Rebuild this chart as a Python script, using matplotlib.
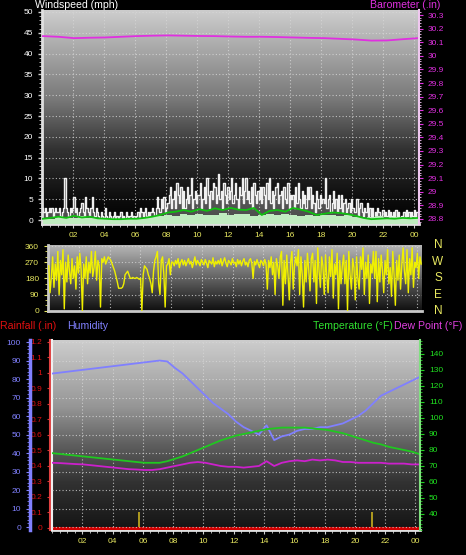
import numpy as np
import matplotlib.pyplot as plt
from matplotlib.ticker import MultipleLocator, FixedLocator

plt.rcParams['font.family'] = ['Liberation Sans', 'DejaVu Sans']

# ---- data (x = hours of the day) ----
barometer = [30.145, 30.14, 30.13, 30.133, 30.135, 30.14, 30.145, 30.148, 30.15, 30.148,
             30.146, 30.145, 30.142, 30.14, 30.14, 30.138, 30.135, 30.132, 30.13, 30.125,
             30.12, 30.112, 30.113, 30.122, 30.13]

# gust, 12 samples per hour (one row per hour)
gust = [3, 2, 3, 1, 2, 3, 2, 3, 1, 2, 3, 2,
        2, 3, 1, 2, 3, 10, 3, 2, 1, 3, 2, 3,
        5.5, 2, 3, 1, 2, 3, 4, 2, 1, 5.5, 3, 2,
        1, 3, 5.5, 2, 1, 3, 2, 1, 0.5, 2, 1, 0.5,
        3, 1, 0.5, 2, 1, 0.5, 1, 2, 0.5, 1, 0.5, 1,
        2, 0.5, 1, 0.5, 2, 1, 0.5, 1, 2, 0.5, 1, 0.5,
        1, 2, 0.5, 3, 2, 1, 2, 3, 1, 2, 0.5, 2,
        3, 2, 1, 3, 5.5, 3, 2, 5, 3, 5.5, 2, 3,
        4, 6, 8, 3, 5, 7, 3, 9, 6, 4, 8, 3,
        7, 3, 5, 8, 4, 6, 10, 3, 5, 7, 4, 6,
        6, 9, 3, 5, 8, 4, 10, 6, 3, 7, 5, 9,
        8, 4, 6, 11, 5, 7, 3, 9, 6, 4, 8, 5,
        7, 10, 4, 6, 9, 5, 3, 8, 6, 10, 4, 7,
        10, 5, 7, 4, 8, 3, 9, 6, 4, 7, 5, 8,
        4, 8, 6, 3, 9, 5, 10, 4, 7, 3, 6, 8,
        9, 4, 6, 7, 3, 8, 5, 4, 9, 3, 6, 5,
        6, 3, 8, 4, 9, 5, 3, 7, 4, 6, 3, 8,
        5, 8, 3, 6, 4, 2, 7, 5, 3, 6, 4, 5,
        4, 10, 3, 5, 6, 2, 4, 7, 3, 5, 2, 6,
        3, 6, 2, 4, 5, 2, 3, 4, 2, 5, 3, 2,
        2, 5, 1, 3, 4, 2, 1, 3, 2, 4, 1, 3,
        1, 3, 0.5, 2, 1, 3, 2, 1, 0.5, 2.5, 1, 2,
        1, 2.5, 0.5, 2, 1, 2, 0.5, 2.5, 1, 2, 0.5, 1,
        1, 2, 0.5, 2.5, 1, 2, 0.5, 2, 1, 2.5, 0.5, 2,
        2]

# average wind and wind speed, 2 samples per hour
avg_wind = [0.3, 0.5, 0.8, 0.5, 1.0, 0.6, 0.8, 0.4, 0.3, 0.2, 0.2, 0.3, 0.3, 0.5, 0.8, 1.2,
            1.8, 2.0, 2.4, 2.0, 2.6, 2.2, 2.8, 2.4, 2.9, 2.5, 2.4, 2.9, 1.2, 2.2, 2.4, 2.0,
            2.9, 2.5, 2.0, 1.2, 1.5, 1.8, 1.7, 1.4, 1.0, 0.5, 0.2, 0.3, 0.4, 0.3, 0.5, 0.4, 0.5]
wind_speed = [0.5, 0.3, 0.8, 0.5, 0.6, 1.0, 0.4, 0.6, 0.2, 0.3, 0.3, 0.2, 0.4, 0.6, 0.8, 1.0,
              1.2, 0.9, 1.4, 1.1, 1.5, 1.2, 1.3, 1.6, 1.2, 1.5, 1.4, 1.0, 1.3, 1.5, 1.1, 1.4,
              1.3, 1.0, 1.2, 0.9, 1.1, 1.3, 0.9, 1.1, 0.8, 0.6, 0.7, 0.9, 0.6, 0.8, 0.7, 0.5, 0.6]

# wind direction, 12 samples per hour (one row per hour)
wind_dir = [250, 100, 190, 300, 130, 260, 170, 330, 90, 280, 200, 340,
            10, 270, 160, 310, 220, 150, 290, 180, 250, 120, 300, 210,
            320, 230, 0, 260, 180, 300, 150, 270, 210, 330, 190, 240,
            330, 170, 280, 250, 20, 290, 270, 300, 260, 280, 300, 290,
            280, 260, 240, 220, 190, 160, 125, 125, 125, 130, 150, 200,
            210, 220, 200, 180, 180, 185, 180, 180, 185, 180, 175, 180,
            0, 200, 250, 240, 230, 200, 180, 150, 100, 220, 280, 300,
            330, 150, 90, 280, 300, 200, 20, 250, 260, 290, 200, 270,
            270, 250, 280, 260, 290, 240, 270, 285, 255, 280, 250, 270,
            290, 260, 275, 240, 270, 300, 255, 280, 265, 250, 285, 270,
            255, 285, 265, 240, 280, 270, 260, 295, 245, 275, 260, 280,
            260, 290, 250, 275, 295, 265, 245, 280, 270, 255, 290, 265,
            270, 245, 285, 260, 280, 250, 275, 290, 255, 270, 245, 280,
            290, 265, 180, 275, 255, 285, 260, 240, 280, 270, 250, 285,
            260, 120, 280, 240, 300, 200, 270, 90, 290, 250, 180, 300,
            330, 30, 280, 150, 310, 200, 60, 270, 330, 120, 250, 300,
            250, 340, 90, 300, 200, 20, 280, 160, 320, 230, 110, 290,
            320, 160, 280, 40, 350, 220, 130, 300, 250, 90, 310, 190,
            100, 300, 190, 340, 70, 260, 200, 320, 10, 280, 150, 250,
            310, 150, 280, 0, 330, 200, 120, 290, 240, 60, 300, 180,
            120, 300, 230, 350, 90, 270, 180, 310, 40, 260, 210, 330,
            180, 330, 50, 290, 160, 310, 230, 100, 280, 200, 340, 150,
            240, 80, 330, 200, 30, 280, 170, 310, 120, 260, 350, 220,
            150, 340, 100, 290, 200, 350, 130, 270, 240, 320, 180, 300,
            260]

# humidity / temperature / dew point, 2 samples per hour
humidity = [83, 83.5, 84, 84.5, 85, 85.5, 86, 86.5, 87, 87.5, 88, 88.5, 89, 89.5, 90, 89.5,
            86, 83, 79, 75, 71, 67, 64, 61, 57, 54, 52, 50, 55, 47, 49, 50,
            52, 53, 53, 54, 54, 55, 56, 58, 60, 63, 67, 71, 73, 75, 77, 79, 81]
temperature = [78, 77.5, 77, 76.5, 76, 75.5, 75, 74.5, 74, 73.5, 73, 72.5, 72, 72, 72, 73,
               74.5, 76, 78, 80, 82, 84, 86, 87.5, 89, 90, 91, 92, 93, 93.5, 94, 94,
               94, 94, 93.5, 93, 92.5, 91.5, 90.5, 89, 87.5, 86, 84.5, 83.5, 82, 81, 80, 79, 77.5]
dew_point = [72, 71.8, 71.5, 71.2, 71, 70.5, 70, 69.5, 69, 68.5, 68, 67.8, 67.5, 67.5, 68, 69,
             70, 71, 72, 72.5, 72, 71, 70, 69.5, 69.5, 69, 69.5, 70, 73, 70, 72, 73,
             73.5, 73, 74, 73.5, 74, 73.5, 72.5, 72.5, 72, 72, 72, 72, 71.5, 71.5, 71.5, 71, 71]
rainfall = [0.0, 0.0]
rain_marks = [5.75, 21.1]

hour_ticks = list(range(2, 25, 2))
hour_labels = ['02', '04', '06', '08', '10', '12', '14', '16', '18', '20', '22', '00']


def hours(vals):
    return np.linspace(0.05, 24.25, len(vals))


W, H = 466, 555
fig = plt.figure(figsize=(W / 100, H / 100), dpi=100, facecolor='black')


def box(l, t, r, b):
    return [l / W, 1 - b / H, (r - l) / W, (b - t) / H]


def gradient(ax, stops):
    pos = [s[0] for s in stops]
    val = [s[1] / 255 for s in stops]
    g = np.interp(np.linspace(0, 1, 256), pos, val)[:, None]
    img = np.dstack([g, g, g])
    ax.imshow(img, extent=(0, 1, 0, 1), transform=ax.transAxes, aspect='auto', zorder=0)


GRID = dict(color='#d8d8d8', linestyle=(0, (1, 2)), linewidth=0.8, alpha=0.8)
YEL = '#e8e860'
MAG = '#e030e0'
FS = 6
TFS = 7.6

# ---------------- panel 1: wind speed and barometer ----------------
ax1 = fig.add_axes(box(42, 10, 419, 224))
gradient(ax1, [(0, 205), (0.42, 120), (0.65, 50), (0.89, 12), (1, 0)])
t = hours(gust)
ax1.fill_between(t, 0, gust, step='mid', color='white', alpha=0.3, lw=0, zorder=2)
ax1.plot(t, gust, drawstyle='steps-mid', color='#f0f0f0', lw=1, zorder=3)
ax1.fill_between(hours(wind_speed), -1, wind_speed, step='mid', color='#c0ecc0', lw=0, zorder=4)
ax1.plot(hours(avg_wind), avg_wind, color='#10c010', lw=1.3, zorder=5)
ax1.set_xlim(0, 24.3)
ax1.set_ylim(-0.96, 50.48)
ax1.set_yticks(range(0, 51, 5))
ax1.yaxis.set_minor_locator(MultipleLocator(1))
ax1.set_xticks(hour_ticks)
ax1.set_xticklabels(hour_labels)
ax1.xaxis.set_minor_locator(MultipleLocator(0.5))
ax1.tick_params(axis='y', colors='#d0d0d0', labelcolor='white', labelsize=FS, length=3, width=1)
ax1.tick_params(axis='y', which='minor', colors='#d0d0d0', length=2)
ax1.tick_params(axis='x', colors='#d0d0d0', labelcolor=YEL, labelsize=FS, length=3, pad=3)
ax1.tick_params(axis='x', which='minor', colors='#d0d0d0', length=2)
ax1.grid(True, **GRID)
for s in ['top', 'right']:
    ax1.spines[s].set_visible(False)
for s in ['left', 'bottom']:
    ax1.spines[s].set_color('#e0e0e0')
    ax1.spines[s].set_linewidth(2)

ax1b = ax1.twinx()
ax1b.plot(hours(barometer), barometer, color=MAG, lw=1.3)
ax1b.set_ylim(28.763, 30.337)
bt = [round(28.8 + 0.1 * i, 1) for i in range(16)]
ax1b.yaxis.set_major_locator(FixedLocator(bt))
ax1b.set_yticklabels([f'{v:g}' for v in bt])
ax1b.yaxis.set_minor_locator(MultipleLocator(0.02))
ax1b.tick_params(axis='y', colors=MAG, labelcolor=MAG, labelsize=FS, length=3)
ax1b.tick_params(axis='y', which='minor', colors='#f0c0f0', length=1.5)
for s in ['top', 'left', 'bottom']:
    ax1b.spines[s].set_visible(False)
ax1b.spines['right'].set_color('#f0c8f0')
ax1b.spines['right'].set_linewidth(1.5)

fig.text(35 / W, 1 - 5 / H, 'Windspeed (mph)', color='white', fontsize=TFS, va='center', ha='left')
fig.text(440 / W, 1 - 5 / H, 'Barometer (.in)', color=MAG, fontsize=TFS, va='center', ha='right')

# ---------------- panel 2: wind direction ----------------
ax2 = fig.add_axes(box(48, 245, 422, 311))
gradient(ax2, [(0, 185), (0.5, 100), (1, 15)])
ax2.plot(hours(wind_dir), wind_dir, color='#f0f000', lw=1.0, zorder=3)
ax2.set_xlim(0, 24.3)
ax2.set_ylim(-2, 366)
ax2.set_yticks([0, 90, 180, 270, 360])
ax2.yaxis.set_minor_locator(MultipleLocator(30))
ax2.set_xticks(hour_ticks)
ax2.tick_params(axis='x', length=0, labelbottom=False)
ax2.tick_params(axis='y', colors=YEL, labelcolor=YEL, labelsize=FS, length=3)
ax2.tick_params(axis='y', which='minor', colors=YEL, length=2)
ax2.grid(True, **GRID)
for s in ['top', 'right']:
    ax2.spines[s].set_visible(False)
for s in ['left', 'bottom']:
    ax2.spines[s].set_color('#c8c8c8')
    ax2.spines[s].set_linewidth(2)
for lab, y in zip(['N', 'W', 'S', 'E', 'N'], [245, 262, 278, 295, 311]):
    fig.text(438 / W, 1 - y / H, lab, color=YEL, fontsize=8.5, ha='center', va='center')

# ---------------- panel 3: rain, humidity, temperature ----------------
ax3 = fig.add_axes(box(52, 340, 420, 530))
gradient(ax3, [(0, 205), (0.35, 150), (0.55, 95), (0.75, 50), (1, 20)])
ax3.plot([0, 24.3], rainfall, color='#d00000', lw=2.2, zorder=6)
ax3.vlines(rain_marks, 0, 0.1, color='#c8b020', lw=1.2, zorder=5)
ax3.set_xlim(0, 24.3)
ax3.set_ylim(-0.016, 1.21)
rt = [round(0.1 * i, 1) for i in range(13)]
ax3.yaxis.set_major_locator(FixedLocator(rt))
ax3.set_yticklabels([f'{v:g}' for v in rt])
ax3.set_xticks(hour_ticks)
ax3.set_xticklabels(hour_labels)
ax3.xaxis.set_minor_locator(MultipleLocator(0.5))
ax3.tick_params(axis='y', colors='#e03030', labelcolor='#e01010', labelsize=FS, length=2)
ax3.tick_params(axis='x', colors='#d0d0d0', labelcolor=YEL, labelsize=FS, length=3, pad=3)
ax3.tick_params(axis='x', which='minor', colors='#d0d0d0', length=2)
ax3.xaxis.grid(True, **GRID)
for s in ['top', 'right']:
    ax3.spines[s].set_visible(False)
ax3.spines['bottom'].set_color('#e0e0e0')
ax3.spines['bottom'].set_linewidth(2)
ax3.spines['left'].set_color('#e04040')
ax3.spines['left'].set_linestyle((0, (2, 1)))
ax3.spines['left'].set_linewidth(1.5)
ax3.spines['left'].set_position(('outward', 1.5))
ax3.plot([0, 0], [0, 1], transform=ax3.transAxes, color='#f0f0f0', lw=1.5, clip_on=False, zorder=7)

ax3h = ax3.twinx()
ax3h.plot(hours(humidity), humidity, color='#8080ff', lw=1.3)
ax3h.set_ylim(-1.6, 101.1)
ax3h.yaxis.tick_left()
ax3h.set_yticks(range(0, 101, 10))
ax3h.yaxis.set_minor_locator(MultipleLocator(2))
ax3h.tick_params(axis='y', colors='#8080ff', labelcolor='#8080ff', labelsize=FS, length=3)
ax3h.tick_params(axis='y', which='minor', colors='#8080ff', length=2)
ax3h.yaxis.grid(True, **GRID)
for s in ['top', 'right', 'bottom']:
    ax3h.spines[s].set_visible(False)
ax3h.spines['left'].set_position(('outward', 22 * 0.72))
ax3h.spines['left'].set_color('#8080ff')
ax3h.spines['left'].set_linewidth(2.5)

ax3t = ax3.twinx()
ax3t.plot(hours(temperature), temperature, color='#20c820', lw=1.3)
ax3t.plot(hours(dew_point), dew_point, color='#cc20cc', lw=1.3)
ax3t.set_ylim(30, 148.75)
ax3t.set_yticks(range(40, 141, 10))
ax3t.yaxis.set_minor_locator(MultipleLocator(2))
ax3t.tick_params(axis='y', colors='#20d020', labelcolor='#20e020', labelsize=FS, length=3)
ax3t.tick_params(axis='y', which='minor', colors='#20d020', length=1.5)
for s in ['top', 'left', 'bottom']:
    ax3t.spines[s].set_visible(False)
ax3t.spines['right'].set_color('#80e080')
ax3t.spines['right'].set_linewidth(1.5)

fig.text(0 / W, 1 - 326 / H, 'Rainfall (.in)', color='#e01010', fontsize=TFS, va='center', ha='left')
fig.text(67 / W, 1 - 326 / H, 'Humidity', color='#8080ff', fontsize=TFS, va='center', ha='left')
fig.text(313 / W, 1 - 326 / H, 'Temperature (°F)', color='#30e030', fontsize=TFS, va='center', ha='left')
fig.text(462 / W, 1 - 326 / H, 'Dew Point (°F)', color='#e040e0', fontsize=TFS, va='center', ha='right')

fig.savefig('out.png', dpi=100, facecolor='black')
